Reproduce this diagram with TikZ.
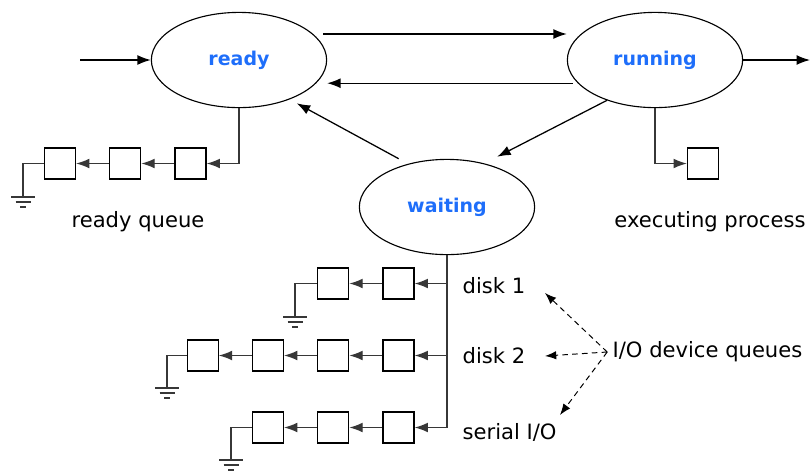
\documentclass[tikz,border=0pt]{standalone}
\usepackage{fontspec}
\setmainfont{DejaVu Sans}
\usepackage{tikz}
\usetikzlibrary{shapes,arrows.meta,positioning,calc}
\definecolor{ProcBlue}{RGB}{30, 110, 250}
\definecolor{QueueGray}{RGB}{55, 55, 55}

\begin{document}
\begin{tikzpicture}[
    x=0.025cm, y=-0.025cm,
    line width=0.9pt,
    arr/.style={-{Latex[length=9.5pt,width=7pt]}},
    state/.style={draw, ellipse, line width=0.8pt, minimum width=4.38cm, minimum height=2.38cm, inner sep=0pt, text=ProcBlue, font=\bfseries\fontsize{13.5}{16}\selectfont},
    qbox/.style={draw, rectangle, minimum size=0.775cm, inner sep=0pt},
    qline/.style={draw=QueueGray, arr},
    label/.style={font=\fontsize{15}{18}\selectfont, inner sep=0pt},
    gnd/.pic={\draw[QueueGray] (-12,0) -- (12,0) (-7.5,5) -- (7.5,5) (-3,10) -- (3,10);},
  ]
    \useasboundingbox (0,0) rectangle (812,470);

    % process states
    \node[state] (ready) at (239,60) {ready};
    \node[state] (running) at (655,60) {running};
    \node[state] (waiting) at (447,207) {waiting};

    \coordinate (in) at (80,60);
    \coordinate (out) at (810,60);
    \draw[arr] (in) -- (ready.west);
    \draw[arr] (running.east) -- (out);

    \coordinate (t1) at ([yshift=0.65cm,xshift=-0.1cm]ready.east);
    \coordinate (t2) at ([yshift=-0.58cm,xshift=0.15cm]running.west);
    \draw[arr] (t1) -- (t1 -| running.west);
    \draw[arr] (t2) -- (t2 -| ready.east);
    \draw[arr] (running.220) -- ([shift={(0.2cm,0.2cm)}]waiting.45);
    \draw[arr] ([shift={(-0.15cm,0.15cm)}]waiting.135) -- ([shift={(0.12cm,-0.12cm)}]ready.-36);

    % ready queue
    \node[qbox] (r1) at (190.5,163.5) {};
    \node[qbox, left=0.825cm of r1] (r2) {};
    \node[qbox, left=0.825cm of r2] (r3) {};
    \coordinate (g1) at (23,197);
    \draw[qline] (ready.south) |- (r1.east);
    \draw[qline] (r1.west) -- (r2.east);
    \draw[qline] (r2.west) -- (r3.east);
    \draw[QueueGray] (r3.west) -| (g1);
    \pic at (g1) {gnd};
    \node[label] (rq) at (138,222) {ready queue};

    % executing process
    \node[qbox] (x1) at (703,163.5) {};
    \draw[qline] (running.south) |- (x1.west);
    \node[label] (ep) at (710,222) {executing process};

    % device queues
    \node[qbox] (d11) at (398.5,283.5) {};
    \node[qbox, left=0.825cm of d11] (d12) {};
    \node[qbox] (d21) at (398.5,355.5) {};
    \node[qbox, left=0.825cm of d21] (d22) {};
    \node[qbox, left=0.825cm of d22] (d23) {};
    \node[qbox, left=0.825cm of d23] (d24) {};
    \node[qbox] (d31) at (398.5,427.5) {};
    \node[qbox, left=0.825cm of d31] (d32) {};
    \node[qbox, left=0.825cm of d32] (d33) {};

    \draw[qline] (waiting.south) |- (d11.east);
    \draw[qline] (waiting.south) |- (d21.east);
    \draw[qline] (waiting.south) |- (d31.east);
    \draw[qline] (d11.west) -- (d12.east);
    \draw[qline] (d21.west) -- (d22.east);
    \draw[qline] (d22.west) -- (d23.east);
    \draw[qline] (d23.west) -- (d24.east);
    \draw[qline] (d31.west) -- (d32.east);
    \draw[qline] (d32.west) -- (d33.east);

    \coordinate (g2) at (295,317);
    \coordinate (g3) at (167,388);
    \coordinate (g4) at (231,460);
    \draw[QueueGray] (d12.west) -| (g2);
    \draw[QueueGray] (d24.west) -| (g3);
    \draw[QueueGray] (d33.west) -| (g4);
    \pic at (g2) {gnd};
    \pic at (g3) {gnd};
    \pic at (g4) {gnd};

    \node[label, anchor=west] (disk1) at (462,286) {disk 1};
    \node[label, anchor=west] (disk2) at (462,356) {disk 2};
    \node[label, anchor=west] (serial) at (462,432) {serial I/O};
    \node[label, anchor=west] (iodev) at (612,352) {I/O device queues};

    \coordinate (a1) at (545,293);
    \coordinate (a2) at (545,356);
    \coordinate (a3) at (560,415);
    \draw[-{Latex[length=8pt,width=6pt]}, dash pattern=on 4pt off 3pt, line width=0.7pt] ([xshift=-0.12cm]iodev.west) -- (a1);
    \draw[-{Latex[length=8pt,width=6pt]}, dash pattern=on 4pt off 3pt, line width=0.7pt] ([xshift=-0.12cm]iodev.west) -- (a2);
    \draw[-{Latex[length=8pt,width=6pt]}, dash pattern=on 4pt off 3pt, line width=0.7pt] ([xshift=-0.12cm]iodev.west) -- (a3);
  \end{tikzpicture}
\end{document}
